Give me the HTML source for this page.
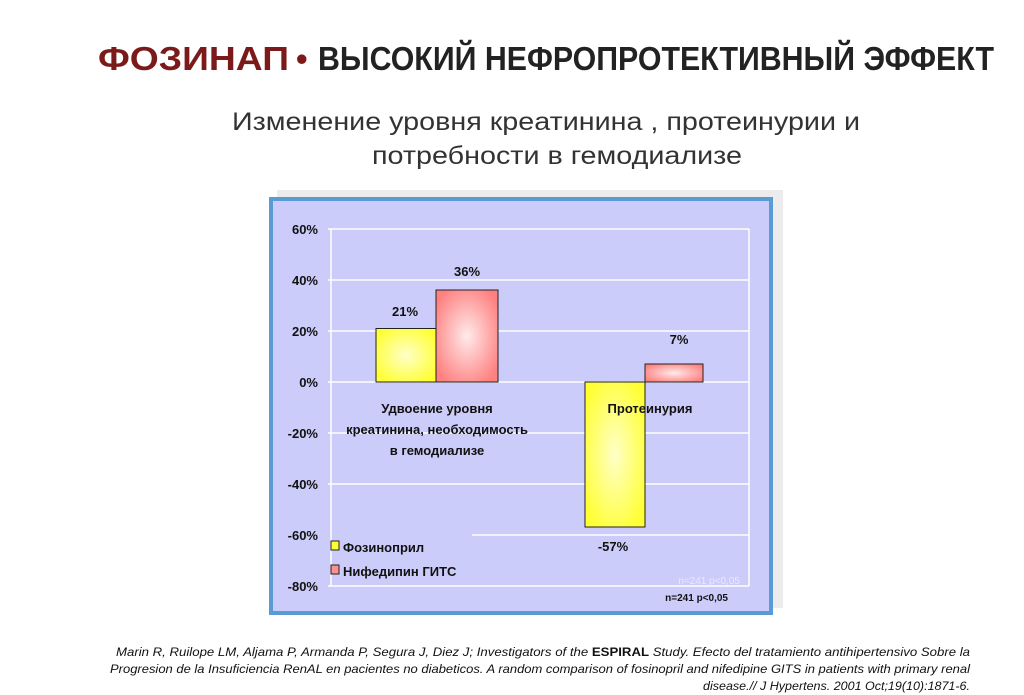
<!DOCTYPE html>
<html><head><meta charset="utf-8"><style>
body{margin:0;background:#fff;width:1024px;height:695px;overflow:hidden}
svg{display:block}
text{font-family:"Liberation Sans","DejaVu Sans",sans-serif}
</style></head><body>
<svg width="1024" height="695" viewBox="0 0 1024 695">
<defs>
<radialGradient id="yg" cx="0.5" cy="0.5" r="0.6"><stop offset="0" stop-color="#ffffc8"/><stop offset="1" stop-color="#ffff33"/></radialGradient>
<radialGradient id="pg" cx="0.5" cy="0.5" r="0.6"><stop offset="0" stop-color="#ffeaea"/><stop offset="1" stop-color="#ff8080"/></radialGradient>
</defs>
<text x="98" y="70" font-size="33" font-weight="bold" fill="#7b1a1a" textLength="191" lengthAdjust="spacingAndGlyphs">ФОЗИНАП</text>
<text x="296" y="70" font-size="33" font-weight="bold" fill="#7b1a1a">•</text>
<text x="318" y="70" font-size="33" font-weight="bold" fill="#222" textLength="676" lengthAdjust="spacingAndGlyphs">ВЫСОКИЙ НЕФРОПРОТЕКТИВНЫЙ ЭФФЕКТ</text>
<text x="232" y="130" font-size="25" fill="#333" textLength="628" lengthAdjust="spacingAndGlyphs">Изменение уровня креатинина , протеинурии и</text>
<text x="372" y="164" font-size="25" fill="#333" textLength="370" lengthAdjust="spacingAndGlyphs">потребности в гемодиализе</text>
<rect x="277" y="190" width="506" height="418" fill="#ececec"/>
<rect x="271" y="199" width="500" height="414" fill="#ccccfa" stroke="#5b9bd5" stroke-width="4"/>
<g stroke="#fff" stroke-width="1.5">
<line x1="328" y1="229" x2="749" y2="229"/><line x1="328" y1="280" x2="749" y2="280"/>
<line x1="328" y1="331" x2="749" y2="331"/><line x1="328" y1="382" x2="749" y2="382"/>
<line x1="328" y1="433" x2="749" y2="433"/><line x1="328" y1="484" x2="749" y2="484"/>
<line x1="472" y1="535" x2="749" y2="535"/><line x1="328" y1="586" x2="749" y2="586"/>
<line x1="331" y1="229" x2="331" y2="586"/><line x1="749" y1="229" x2="749" y2="586"/>
</g>
<g font-size="13" font-weight="bold" fill="#111" text-anchor="end">
<text x="318" y="234">60%</text><text x="318" y="285">40%</text><text x="318" y="336">20%</text>
<text x="318" y="387">0%</text><text x="318" y="438">-20%</text><text x="318" y="489">-40%</text>
<text x="318" y="540">-60%</text><text x="318" y="591">-80%</text>
</g>
<rect x="376" y="328.5" width="60" height="53.5" fill="url(#yg)" stroke="#222"/>
<rect x="436" y="290" width="62" height="92" fill="url(#pg)" stroke="#222"/>
<rect x="585" y="382" width="60" height="145" fill="url(#yg)" stroke="#222"/>
<rect x="645" y="364" width="58" height="18" fill="url(#pg)" stroke="#222"/>
<g font-size="13" font-weight="bold" fill="#111" text-anchor="middle">
<text x="405" y="316">21%</text><text x="467" y="276">36%</text>
<text x="679" y="344">7%</text><text x="613" y="551">-57%</text>
<text x="437" y="413">Удвоение уровня</text>
<text x="437" y="434">креатинина, необходимость</text>
<text x="437" y="455">в гемодиализе</text>
<text x="650" y="413">Протеинурия</text>
</g>
<rect x="331" y="541" width="8" height="9" fill="#ffff33" stroke="#222"/>
<rect x="331" y="565" width="8" height="9" fill="#ff9090" stroke="#222"/>
<text x="343" y="552" font-size="13" font-weight="bold" fill="#111">Фозиноприл</text>
<text x="343" y="576" font-size="13" font-weight="bold" fill="#111">Нифедипин ГИТС</text>
<text x="740" y="584" font-size="10" fill="#e8e8ff" text-anchor="end">n=241 p&lt;0,05</text>
<text x="728" y="601" font-size="10" font-weight="bold" fill="#111" text-anchor="end">n=241 p&lt;0,05</text>
<g font-size="12" font-style="italic" fill="#111" text-anchor="end">
<text x="970" y="656" textLength="854" lengthAdjust="spacingAndGlyphs">Marin R, Ruilope LM, Aljama P, Armanda P, Segura J, Diez J; Investigators of the <tspan font-weight="bold" font-style="normal">ESPIRAL</tspan> Study. Efecto del tratamiento antihipertensivo Sobre la</text>
<text x="970" y="673" textLength="860" lengthAdjust="spacingAndGlyphs">Progresion de la Insuficiencia RenAL en pacientes no diabeticos. A random comparison of fosinopril and nifedipine GITS in patients with primary renal</text>
<text x="970" y="690" textLength="267" lengthAdjust="spacingAndGlyphs">disease.// J Hypertens. 2001 Oct;19(10):1871-6.</text>
</g>
</svg>
</body></html>
